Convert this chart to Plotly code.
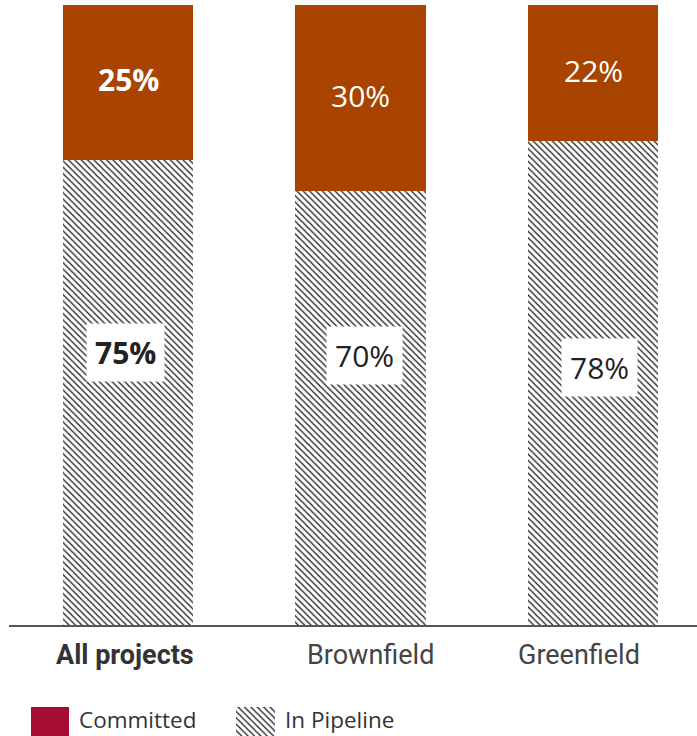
import plotly.graph_objects as go

categories = ["All projects", "Brownfield", "Greenfield"]
committed = [25, 30, 22]
pipeline = [75, 70, 78]
bold_category = "All projects"
legend_labels = ["Committed", "In Pipeline"]

COMMITTED_COLOR = "#A84300"
LEGEND_COMMITTED_COLOR = "#A50E32"
FONT = "'Open Sans', Roboto, sans-serif"
TICK_FONT = "Roboto, 'Open Sans', sans-serif"
TEXT_DARK = "#333333"
pattern = dict(shape="\\", size=4.5, solidity=0.32, fgcolor="#2a2a2a", bgcolor="white", fillmode="replace")

W, H = 697, 736
mt, mb, ml, mr = 5, 0, 9, 0
plot_h = H - mt - mb
base_px = 625
y_dom_bottom = (H - base_px) / plot_h

def fmt(cat, v):
    s = f"{v}%"
    return f"<b>{s}</b>" if cat == bold_category else s

fig = go.Figure()

fig.add_trace(go.Bar(
    x=categories, y=pipeline, name=legend_labels[1], width=0.56,
    marker=dict(color="white", pattern=pattern, line=dict(width=0)),
    showlegend=False, hoverinfo="skip",
))
fig.add_trace(go.Bar(
    x=categories, y=committed, name=legend_labels[0], width=0.56,
    marker=dict(color=COMMITTED_COLOR, line=dict(width=0)),
    showlegend=False, hoverinfo="skip",
))

# committed labels (white text on bar, slightly above centre)
for c, v, p in zip(categories, committed, pipeline):
    fig.add_annotation(
        x=c, y=p + v / 2, xref="x", yref="y", text=fmt(c, v), showarrow=False,
        yshift=3, font=dict(family=FONT, size=30, color="white"),
    )

# pipeline labels (white boxes)
label_y = [44.0, 43.5, 41.6]
label_dx = [-3, 3.5, 6.5]
for c, v, ly, dx in zip(categories, pipeline, label_y, label_dx):
    fig.add_annotation(
        x=c, y=ly, xref="x", yref="y", text=fmt(c, v), showarrow=False,
        xshift=dx, bgcolor="white", borderpad=8,
        font=dict(family=FONT, size=30, color="#222222"),
    )

# category labels
cat_dx = [-3, 10, -14]
for c, dx in zip(categories, cat_dx):
    fig.add_annotation(
        x=c, y=0, xref="x", yref="y", yshift=-30, xshift=dx,
        text=(f"<b>{c}</b>" if c == bold_category else c), showarrow=False,
        yanchor="middle",
        font=dict(family=TICK_FONT, size=27, color=TEXT_DARK if c == bold_category else "#444444"),
    )

# custom legend (pixel-unit axis at bottom)
legend_swatch_x = [50, 255.5]
legend_swatch_w = [38, 39]
fig.add_trace(go.Bar(
    x=[legend_swatch_x[0]], y=[1], width=[legend_swatch_w[0]], xaxis="x2", yaxis="y2",
    marker=dict(color=LEGEND_COMMITTED_COLOR, line=dict(width=0)),
    showlegend=False, hoverinfo="skip",
))
fig.add_trace(go.Bar(
    x=[legend_swatch_x[1]], y=[1], width=[legend_swatch_w[1]], xaxis="x2", yaxis="y2",
    marker=dict(color="white", pattern=pattern, line=dict(width=0)),
    showlegend=False, hoverinfo="skip",
))
for lbl, sx, sw in zip(legend_labels, legend_swatch_x, legend_swatch_w):
    fig.add_annotation(
        x=sx + sw / 2 + 9, y=0.5, xref="x2", yref="y2", text=lbl, showarrow=False,
        xanchor="left", yanchor="middle", yshift=2, borderpad=0,
        font=dict(family=FONT, size=22.5, color=TEXT_DARK),
    )

fig.update_layout(
    width=W, height=H,
    margin=dict(l=ml, r=mr, t=mt, b=mb, pad=0),
    barmode="stack", bargap=0,
    plot_bgcolor="white", paper_bgcolor="white",
    showlegend=False,
    xaxis=dict(range=[-0.512, 2.447], showticklabels=False, ticks="", showgrid=False,
               zeroline=False, showline=True, linecolor="#555555", linewidth=2,
               anchor="y", fixedrange=True),
    yaxis=dict(range=[0, 100], domain=[y_dom_bottom, 1], visible=False, showgrid=False,
               zeroline=False, fixedrange=True),
    xaxis2=dict(range=[ml, W - mr], domain=[0, 1], visible=False, anchor="y2", fixedrange=True),
    yaxis2=dict(range=[0, 1], domain=[0, 29 / plot_h], visible=False, fixedrange=True),
    font=dict(family=FONT),
)

fig.write_html(
    "out.html",
    config={"displayModeBar": False, "staticPlot": True},
    post_script="document.body.style.margin='0';document.body.style.overflow='hidden';",
)
